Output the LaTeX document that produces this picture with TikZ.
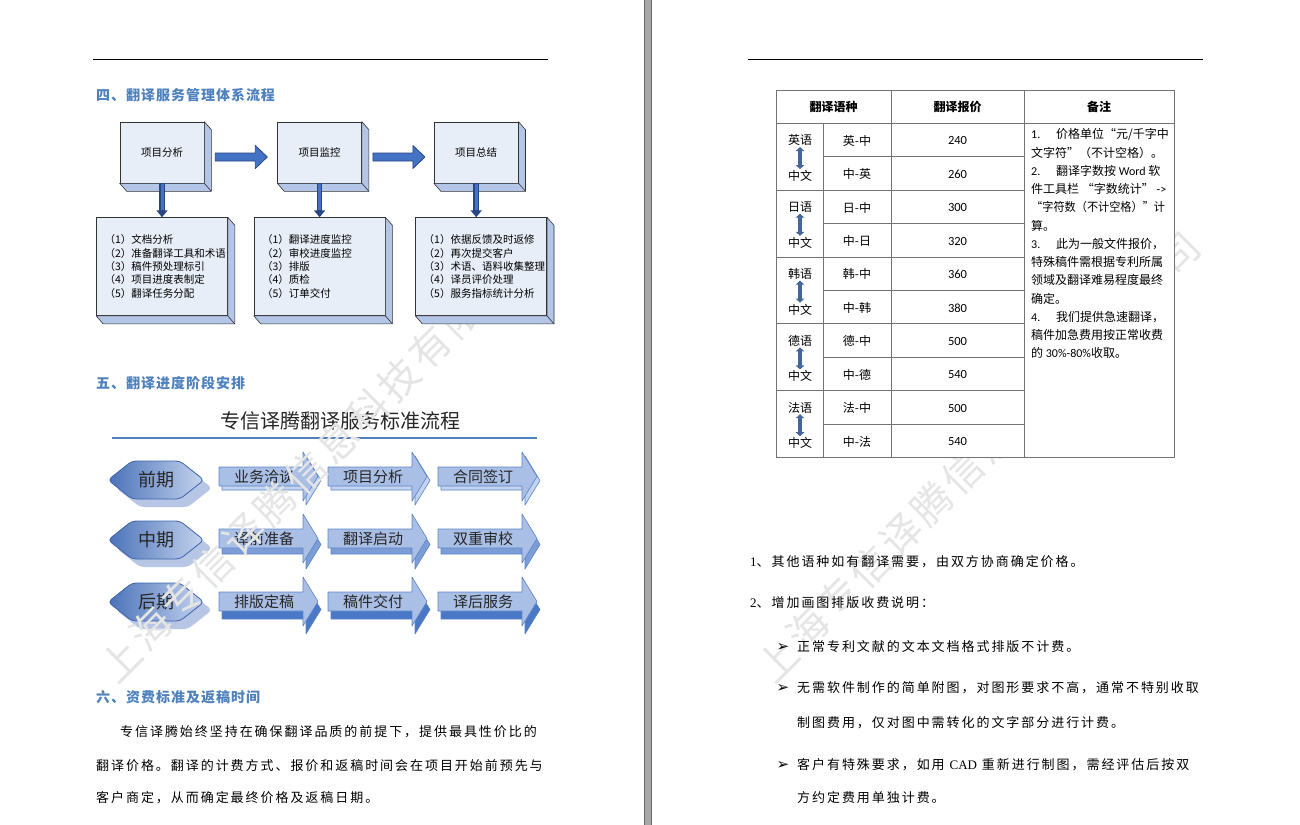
\documentclass[tikz,border=0pt]{standalone}
\usepackage{fontspec}
\setmainfont{Noto Sans CJK SC}
\newfontfamily\cjkbody[LetterSpace=15]{Noto Sans CJK SC}
\newfontfamily\cjkhead[LetterSpace=7]{Noto Sans CJK SC}
\newfontfamily\lat{Carlito}
\newfontfamily\ser{Liberation Serif}
\newfontfamily\sym{DejaVu Sans}
\usetikzlibrary{positioning,calc,arrows.meta}
\newcommand{\fsz}[1]{\fontsize{#1}{#1}\selectfont}

\definecolor{headblue}{RGB}{79,129,189}
\definecolor{boxface}{RGB}{232,238,248}
\definecolor{boxside}{RGB}{180,198,231}
\definecolor{arrblue}{RGB}{68,114,196}
\definecolor{arrline}{RGB}{40,70,130}
\definecolor{hexdark}{RGB}{74,114,184}
\definecolor{hexlight}{RGB}{197,211,238}
\definecolor{hexshade}{RGB}{183,198,229}
\definecolor{hexline}{RGB}{61,100,170}
\definecolor{flowface}{RGB}{169,191,230}
\definecolor{flowline}{RGB}{91,132,200}
\definecolor{depthA}{RGB}{196,211,239}
\definecolor{depthB}{RGB}{124,157,214}
\definecolor{depthC}{RGB}{74,120,198}
\definecolor{langblue}{RGB}{68,103,155}

\tikzset{
  headrule/.style={black, line width=0.8pt},
  pagegap/.style={fill=black!35, draw=black!60, line width=0.8pt},
  sechead/.style={anchor=west, inner sep=0pt, text=headblue, font=\fsz{14}\cjkhead\bfseries},
  bodyline/.style={anchor=west, inner sep=0pt, font=\fsz{13}\cjkbody},
  topbox/.style={draw=black!80, fill=boxface, line width=0.6pt, minimum width=84pt,
    minimum height=61pt, inner sep=0pt, font=\fsz{10.5}},
  listbox/.style={draw=black!80, fill=boxface, line width=0.6pt, minimum width=131pt,
    minimum height=98pt, text width=115pt, align=left, inner sep=0pt,
    font=\fontsize{10.5}{13.3}\selectfont},
  sideface/.style={fill=boxside, draw=black!80, line width=0.6pt, line join=round},
  vstem/.style={arrline, line width=5.5pt, -{Triangle[width=11pt,length=7pt]}},
  vcore/.style={arrblue, line width=3pt, shorten >=7pt, shorten <=0.5pt},
  blockarrow/.style={fill=arrblue, draw=arrline, line width=0.8pt, line join=round},
  charttitle/.style={font=\fsz{20}, text=black!85, inner sep=0pt},
  titlerule/.style={headblue, line width=1.5pt},
  hexbody/.style={draw=hexline, line width=0.8pt, left color=hexdark, right color=hexlight},
  phase/.style={font=\fsz{18}, text=black!85, inner sep=0pt},
  stepface/.style={fill=flowface, draw=flowline, line width=0.6pt, line join=round},
  steptext/.style={font=\fsz{15}, text=black!85, inner sep=0pt},
  wmark/.style={rotate=45, text=black!10, font=\fsz{40}, inner sep=0pt},
  tablegrid/.style={black!55, line width=0.8pt},
  tcell/.style={font=\fsz{12}, inner sep=1pt},
  tnum/.style={font=\fsz{12.5}\lat, inner sep=1pt},
  headcell/.style={font=\fsz{12}\bfseries, inner sep=1pt},
  langarrow/.style={langblue, line width=3.2pt,
    {Triangle[width=8.5pt,length=4pt]}-{Triangle[width=8.5pt,length=4pt]}},
  remark/.style={anchor=west, font=\fsz{12}, inner sep=0pt},
  bullet/.style={font=\fsz{15}\sym, inner sep=0pt},
}

\begin{document}
\begin{tikzpicture}[x=1pt,y=-1pt]
  \useasboundingbox (0,0) rectangle (1300,824);
  \fill[white] (0,0) rectangle (1300,824);
  % gap between the two pages
  \filldraw[pagegap] (644,-2) rectangle (651.5,826);
  \draw[headrule] (93,59.5) -- (548,59.5);
  \draw[headrule] (748,59.5) -- (1203,59.5);

  % left page, headings and text
  \node[sechead] (sec4) at (96,95) {四、翻译服务管理体系流程};
  \node[sechead] (sec5) at (96,383) {五、翻译进度阶段安排};
  \node[sechead] (sec6) at (96,697) {六、资费标准及返稿时间};
  \node[bodyline] (p1) at (120,732) {专信译腾始终坚持在确保翻译品质的前提下，提供最具性价比的};
  \node[bodyline] (p2) at (96,766) {翻译价格。翻译的计费方式、报价和返稿时间会在项目开始前预先与};
  \node[bodyline] (p3) at (96,798) {客户商定，从而确定最终价格及返稿日期。};

  % standard process chart
  \node[charttitle] (title) at (340,421) {专信译腾翻译服务标准流程};
  \draw[titlerule] (112,438) -- (537,438);
  \foreach \lab/\y/\nm in {前期/480/early, 中期/540/mid, 后期/602/late} {
    \begin{scope}[shift={(156,\y)}]
      \fill[hexshade, rounded corners=4pt] (-40,8) -- (-16,-11) -- (32,-11) -- (56,8) -- (32,27) -- (-16,27) -- cycle;
      \shade[hexbody, rounded corners=4pt] (-48,0) -- (-24,-19) -- (24,-19) -- (48,0) -- (24,19) -- (-24,19) -- cycle;
    \end{scope}
    \node[phase] (\nm) at (156,\y) {\lab};
  }
  \foreach \x/\y/\dd/\dc/\lab/\nm in {
      219/467/4/depthA/业务洽谈/s11, 328/467/4/depthA/项目分析/s12, 438/467/4/depthA/合同签订/s13,
      219/529/6/depthB/译前准备/s21, 328/529/6/depthB/翻译启动/s22, 438/529/6/depthB/双重审校/s23,
      219/592/8/depthC/排版定稿/s31, 328/592/8/depthC/稿件交付/s32, 438/592/8/depthC/译后服务/s33} {
    \begin{scope}[shift={(\x,\y)}]
      \filldraw[fill=\dc, draw=flowline, line width=0.6pt, line join=round]
        (3,\dd) -- (87,\dd) -- (87,-15+\dd) -- (102,9.5+\dd) -- (87,34+\dd) -- (87,19+\dd) -- (3,19+\dd) -- cycle;
      \filldraw[stepface] (0,0) -- (84,0) -- (84,-15) -- (99,9.5) -- (84,34) -- (84,19) -- (0,19) -- cycle;
    \end{scope}
    \node[steptext] (\nm) at (\x+45,\y+9.5) {\lab};
  }

  % watermark
  \foreach \c [count=\i from 0] in {上,海,专,信,译,腾,信,息,科,技,有,限,公,司} {
    \node[wmark] (wl\i) at (120+31*\i,660-31.2*\i) {\c};
    \node[wmark] (wr\i) at (777+31*\i,660-31.2*\i) {\c};
  }

  % management flow
  \node[topbox] (ana) at (162,152.5) {项目分析};
  \node[topbox, right=73pt of ana] (mon) {项目监控};
  \node[topbox, right=72pt of mon] (sum) {项目总结};
  \node[listbox, below=34pt of ana] (la) {（1）文档分析\\（2）准备翻译工具和术语\\（3）稿件预处理标引\\（4）项目进度表制定\\（5）翻译任务分配};
  \node[listbox, below=34pt of mon] (lb) {（1）翻译进度监控\\（2）审校进度监控\\（3）排版\\（4）质检\\（5）订单交付};
  \node[listbox, below=34pt of sum, xshift=5pt] (lc) {（1）依据反馈及时返修\\（2）再次提交客户\\（3）术语、语料收集整理\\（4）译员评价处理\\（5）服务指标统计分析};
  \foreach \n in {ana,mon,sum,la,lb,lc} {
    \filldraw[sideface] (\n.north east) -- ++(7,8) |- ($(\n.south west)+(7,8)$) -- (\n.south west) -- (\n.south east) -- cycle;
    \draw[black!80, line width=0.6pt] (\n.south east) -- ++(7,8);
  }
  \foreach \a/\b in {ana/mon, mon/sum}
    \filldraw[blockarrow] ($(\a.east)+(11,0.5)$) -- ++(40,0) -- ++(0,-7.5) -- ++(12,11.5) -- ++(-12,11.5) -- ++(0,-7.5) -- ++(-40,0) -- cycle;
  \foreach \a/\b in {ana/la, mon/lb, sum/lc} {
    \draw[vstem] (\a.south) -- (\a.south |- \b.north);
    \draw[vcore] (\a.south) -- (\a.south |- \b.north);
  }

  % price table
  \fill[white] (776,90) rectangle (1174,457.3);
  \draw[tablegrid] (776,90) rectangle (1174,457.3);
  \draw[tablegrid] (776,123.3) -- (1174,123.3);
  \draw[tablegrid] (823,123.3) -- (823,457.3);
  \draw[tablegrid] (891,90) -- (891,457.3);
  \draw[tablegrid] (1024,90) -- (1024,457.3);
  \foreach \k in {1,3,5,7,9}
    \draw[tablegrid] (823,123.3+33.4*\k) -- (1024,123.3+33.4*\k);
  \foreach \k in {2,4,6,8}
    \draw[tablegrid] (776,123.3+33.4*\k) -- (1024,123.3+33.4*\k);
  \node[headcell] (hlang) at (833.5,107) {翻译语种};
  \node[headcell] (hprice) at (957.5,107) {翻译报价};
  \node[headcell] (hnote) at (1099,107) {备注};
  \foreach \lg/\ab/\ba/\pa/\pb [count=\i from 0] in {
      英语/英-中/中-英/240/260, 日语/日-中/中-日/300/320, 韩语/韩-中/中-韩/360/380,
      德语/德-中/中-德/500/540, 法语/法-中/中-法/500/540} {
    \pgfmathsetmacro\yt{123.3+66.8*\i}
    \node[tcell] (lg\i) at (800,\yt+17) {\lg};
    \node[tcell] (zw\i) at (800,\yt+52.5) {中文};
    \draw[langarrow] (lg\i.south) -- (zw\i.north);
    \node[tcell] (ab\i) at (857,\yt+17.5) {\ab};
    \node[tcell] (ba\i) at (857,\yt+51) {\ba};
    \node[tnum] (pa\i) at (957.5,\yt+17.5) {\pa};
    \node[tnum] (pb\i) at (957.5,\yt+51) {\pb};
  }
  \foreach \t [count=\j from 0] in {
      {\makebox[25pt][l]{\lat 1.}价格单位“元/千字中},
      {文字符”（不计空格）。},
      {\makebox[25pt][l]{\lat 2.}翻译字数按 {\lat Word} 软},
      {件工具栏 “字数统计” {\lat ->}},
      {\scalebox{0.93}[1]{“字符数（不计空格）”计}},
      {算。},
      {\makebox[25pt][l]{\lat 3.}此为一般文件报价，},
      {特殊稿件需根据专利所属},
      {领域及翻译难易程度最终},
      {确定。},
      {\makebox[25pt][l]{\lat 4.}我们提供急速翻译，},
      {稿件加急费用按正常收费},
      {的 {\lat 30\%-80\%}收取。}}
    \node[remark] (rm\j) at (1031,134.3+18.25*\j) {\t};

  % right page, notes below the table
  \node[bodyline] (n1) at (750,562) {{\ser 1}、其他语种如有翻译需要，由双方协商确定价格。};
  \node[bodyline] (n2) at (750,603) {{\ser 2}、增加画图排版收费说明：};
  \node[bullet] (b1) at (783,647) {➢};
  \node[bullet] (b2) at (783,688) {➢};
  \node[bullet] (b3) at (783,765) {➢};
  \node[bodyline] (t1) at (797,647) {正常专利文献的文本文档格式排版不计费。};
  \node[bodyline] (t2) at (797,688) {无需软件制作的简单附图，对图形要求不高，通常不特别收取};
  \node[bodyline] (t2b) at (797,723) {制图费用，仅对图中需转化的文字部分进行计费。};
  \node[bodyline] (t3) at (797,765) {客户有特殊要求，如用 {\ser CAD} 重新进行制图，需经评估后按双};
  \node[bodyline] (t3b) at (797,798) {方约定费用单独计费。};
\end{tikzpicture}
\end{document}
